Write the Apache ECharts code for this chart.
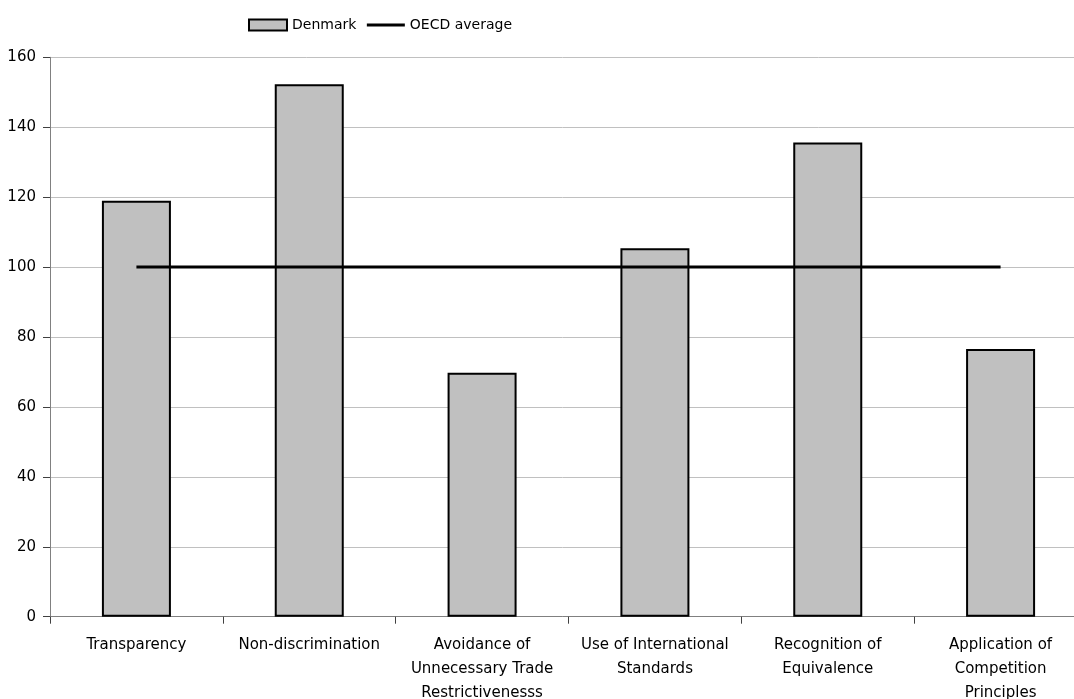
<!DOCTYPE html>
<html>
<head>
<meta charset="utf-8">
<script src="https://cdn.jsdelivr.net/npm/echarts@6/dist/echarts.min.js"></script>
<style>html,body{margin:0;padding:0;background:#fff}#c{width:1074px;height:699px}</style>
</head>
<body>
<div id="c"></div>
<script>
const categories = [
  "Transparency",
  "Non-discrimination",
  "Avoidance of\nUnnecessary Trade\nRestrictivenesss",
  "Use of International\nStandards",
  "Recognition of\nEquivalence",
  "Application of\nCompetition\nPrinciples"
];
const denmark = [119.0, 152.3, 69.8, 105.4, 135.6, 76.6];
const oecdAverage = [100, 100, 100, 100, 100, 100];
const yTicks = { min: 0, max: 160, interval: 20 };

const font = "DejaVu Sans";
const chart = echarts.init(document.getElementById('c'), null, { renderer: 'canvas' });
chart.setOption({
  animation: false,
  backgroundColor: '#ffffff',
  textStyle: { fontFamily: font },
  legend: {
    top: 13,
    left: 243,
    itemWidth: 38,
    itemHeight: 11,
    itemGap: 9,
    textStyle: { fontFamily: font, fontSize: 14, color: '#000', padding: [0, 0, 0, 0] },
    data: [
      { name: 'Denmark', icon: 'rect', itemStyle: { borderWidth: 2 } },
      { name: 'OECD average', itemStyle: { opacity: 0 }, lineStyle: { width: 3, color: '#000' } }
    ]
  },
  grid: { left: 50, width: 1037, top: 57.3, height: 559.4, outerBoundsMode: 'none', containLabel: false },
  xAxis: {
    type: 'category',
    data: categories,
    boundaryGap: true,
    axisLine: { lineStyle: { color: '#808080', width: 1 } },
    axisTick: { show: true, length: 7, lineStyle: { color: '#404040' } },
    axisLabel: { interval: 0, fontFamily: font, fontSize: 15, color: '#000', lineHeight: 24, margin: 16 }
  },
  yAxis: {
    type: 'value',
    min: yTicks.min, max: yTicks.max, interval: yTicks.interval,
    axisLine: { show: true, lineStyle: { color: '#808080', width: 1 } },
    axisTick: { show: true, length: 7, lineStyle: { color: '#404040' } },
    axisLabel: { fontFamily: font, fontSize: 15, color: '#000', margin: 14 },
    splitLine: { show: true, lineStyle: { color: '#c0c0c0', width: 1 } }
  },
  series: [
    {
      name: 'Denmark',
      type: 'bar',
      data: denmark,
      barWidth: 69,
      itemStyle: { color: '#c0c0c0', borderColor: '#000', borderWidth: 2 }
    },
    {
      name: 'OECD average',
      type: 'line',
      data: oecdAverage,
      symbol: 'none',
      lineStyle: { color: '#000', width: 3 },
      itemStyle: { color: '#000' }
    }
  ]
});
</script>
</body>
</html>
